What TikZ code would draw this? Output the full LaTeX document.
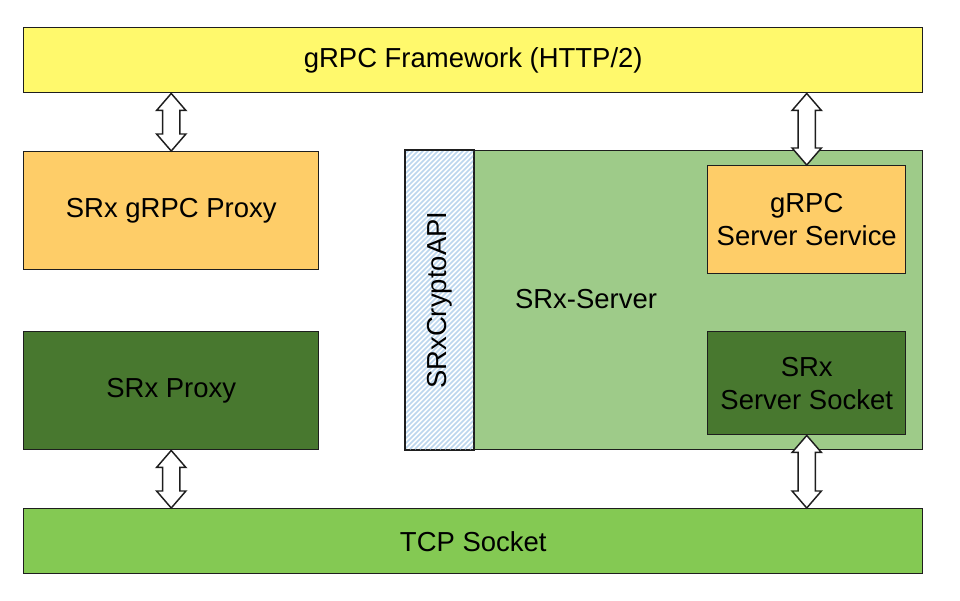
\documentclass[tikz,border=0pt]{standalone}
\usepackage{fontspec}
\setmainfont{Liberation Sans}
\usetikzlibrary{calc}
\definecolor{cyel}{HTML}{FFF96C}
\definecolor{corange}{HTML}{FECD68}
\definecolor{cdark}{HTML}{48782F}
\definecolor{clight}{HTML}{9ECB89}
\definecolor{ctcp}{HTML}{84C953}
\definecolor{chatch}{HTML}{BCD6EE}
\definecolor{cline}{HTML}{1E1E1E}
\tikzset{
  box/.style={draw=cline, line width=1.1pt, inner sep=0pt, font=\fontsize{20.6}{24.5}\selectfont, align=center},
  hatchline/.style={draw=chatch, line width=1.3pt},
  blockarr/.style={draw=cline, line width=1.1pt, fill=white, line join=miter}
}
\newcommand{\dblarr}[2]{%
  \draw[blockarr] let \p1=#1, \p2=#2 in
    (\x1,\y1) -- (\x1+11pt,\y1-12.75pt) -- (\x1+6.5pt,\y1-12.75pt) -- (\x1+6.5pt,\y2+12.75pt)
    -- (\x1+11pt,\y2+12.75pt) -- (\x1,\y2) -- (\x1-11pt,\y2+12.75pt) -- (\x1-6.5pt,\y2+12.75pt)
    -- (\x1-6.5pt,\y1-12.75pt) -- (\x1-11pt,\y1-12.75pt) -- cycle;}
\begin{document}
\begin{tikzpicture}[x=0.75pt,y=-0.75pt]
\useasboundingbox (0,0) rectangle (960,600);
% boxes
\node[box, fill=cyel, minimum width=899*0.75pt, minimum height=65*0.75pt, anchor=north west] (grpc) at (23,27) {gRPC Framework (HTTP/2)};
\node[box, fill=corange, minimum width=295*0.75pt, minimum height=118*0.75pt, anchor=north west] (gproxy) at (23,151) {SRx gRPC Proxy};
\node[box, fill=cdark, minimum width=295*0.75pt, minimum height=118*0.75pt, anchor=north west] (proxy) at (23,331) {SRx Proxy};
\node[box, fill=ctcp, minimum width=899*0.75pt, minimum height=65*0.75pt, anchor=north west] (tcp) at (23,508) {TCP Socket};
\node[box, fill=clight, minimum width=517*0.75pt, minimum height=299*0.75pt, anchor=north west] (server) at (405,150) {};
\node[box, fill=white, minimum width=68*0.75pt, minimum height=299*0.75pt, anchor=north west] (crypto) at (405,150) {};
\begin{scope}
  \clip (405,150) rectangle (473,449);
  \foreach \k in {-235,-230,...,155} {
    \draw[hatchline] (405+\k-80,449) -- (405+\k+220,149);
  }
\end{scope}
\draw[draw=cline, line width=1.1pt] (crypto.north west) rectangle (crypto.south east);
\node[font=\fontsize{20.6}{24.5}\selectfont, rotate=90] (cryptolbl) at (crypto.center) {SRxCryptoAPI};
\node[font=\fontsize{20.6}{24.5}\selectfont] (serverlbl) at (586,299) {SRx-Server};
\node[box, fill=corange, minimum width=198*0.75pt, minimum height=108*0.75pt, anchor=north west] (gservice) at (707,165) {gRPC\\Server Service};
\node[box, fill=cdark, minimum width=198*0.75pt, minimum height=103*0.75pt, anchor=north west] (ssock) at (707,331) {SRx\\Server Socket};
% arrows
\coordinate (a1t) at (grpc.south -| gproxy.north);
\dblarr{(a1t)}{(gproxy.north)}
\coordinate (a2t) at (grpc.south -| gservice.north);
\dblarr{(a2t)}{(gservice.north)}
\coordinate (a3b) at (tcp.north -| proxy.south);
\dblarr{(proxy.south)}{(a3b)}
\coordinate (a4b) at (tcp.north -| ssock.south);
\dblarr{(ssock.south)}{(a4b)}
\end{tikzpicture}
\end{document}
